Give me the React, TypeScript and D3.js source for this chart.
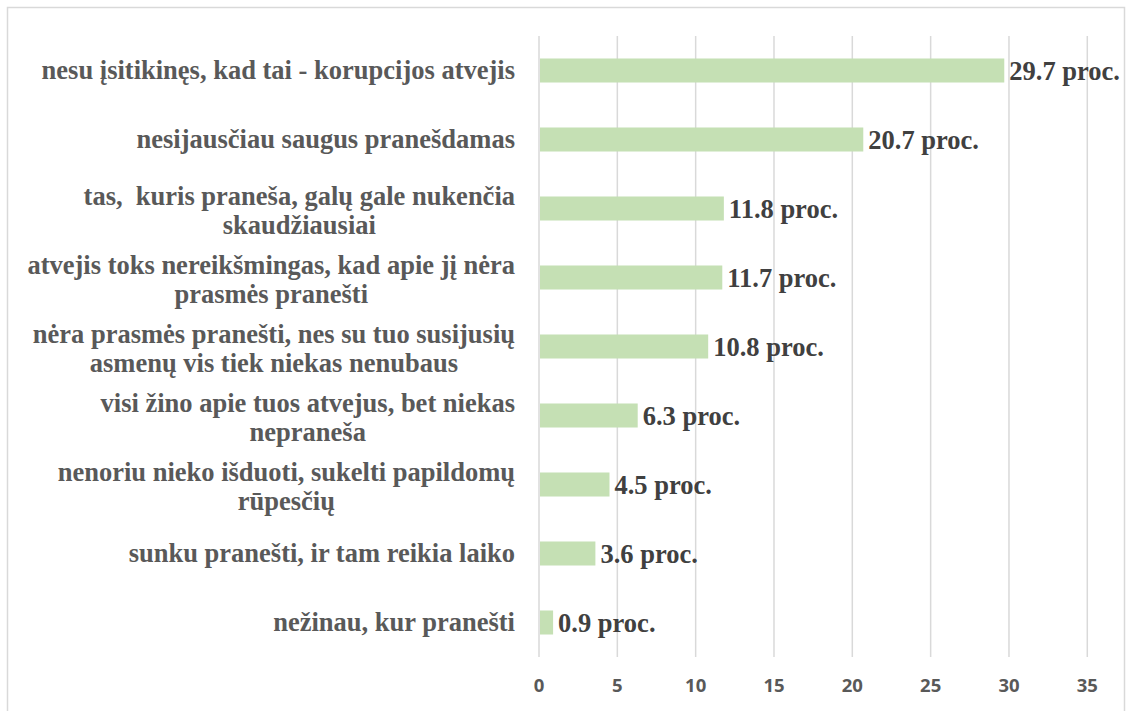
import React, { useEffect, useRef } from "react";
import * as d3 from "d3";

const categories: string[][] = [
  ["nesu įsitikinęs, kad tai - korupcijos atvejis"],
  ["nesijausčiau saugus pranešdamas"],
  ["tas,  kuris praneša, galų gale nukenčia", "skaudžiausiai"],
  ["atvejis toks nereikšmingas, kad apie jį nėra", "prasmės pranešti"],
  ["nėra prasmės pranešti, nes su tuo susijusių", "asmenų vis tiek niekas nenubaus"],
  ["visi žino apie tuos atvejus, bet niekas", "nepraneša"],
  ["nenoriu nieko išduoti, sukelti papildomų", "rūpesčių"],
  ["sunku pranešti, ir tam reikia laiko"],
  ["nežinau, kur pranešti"],
];
const values: number[] = [29.7, 20.7, 11.8, 11.7, 10.8, 6.3, 4.5, 3.6, 0.9];
const xTicks: number[] = [0, 5, 10, 15, 20, 25, 30, 35];
const suffix = " proc.";

export default function App() {
  const ref = useRef<SVGSVGElement>(null);
  useEffect(() => {
    const svg = d3.select(ref.current);
    svg.selectAll("*").remove();
    const W = 1127, H = 711;
    const x0 = 539, x1 = 1087.3, yTop = 36, yBot = 657;
    const x = d3.scaleLinear().domain([0, 35]).range([x0, x1]);
    const idx = values.map((_, i) => String(i));
    const y = d3.scaleBand().domain(idx).range([yTop, yBot]).paddingInner(0.652).paddingOuter(0.326);

    svg.append("rect").attr("x", 0).attr("y", 0).attr("width", W).attr("height", H).attr("fill", "#fff");
    svg.append("rect").attr("x", 7.5).attr("y", 7.5).attr("width", 1117).attr("height", 720)
      .attr("fill", "none").attr("stroke", "#d9d9d9").attr("stroke-width", 1.5);

    // gridlines
    svg.append("g").selectAll("line").data(xTicks).join("line")
      .attr("x1", d => x(d)).attr("x2", d => x(d)).attr("y1", yTop).attr("y2", yBot)
      .attr("stroke", "#d9d9d9").attr("stroke-width", 1.5);

    // tick labels
    svg.append("g").selectAll("text").data(xTicks).join("text")
      .attr("x", d => x(d)).attr("y", 692).attr("text-anchor", "middle")
      .attr("font-family", "'Open Sans', sans-serif").attr("font-weight", 700)
      .attr("font-size", 18.5).attr("fill", "#595959").text(d => String(d));

    // bars
    svg.append("g").selectAll("rect").data(values).join("rect")
      .attr("x", x(0) + 1).attr("y", (_, i) => y(String(i))!)
      .attr("width", d => x(d) - x(0) - 1).attr("height", y.bandwidth())
      .attr("fill", "#c5e0b4");

    // value labels
    svg.append("g").selectAll("text").data(values).join("text")
      .attr("x", d => x(d) + 5).attr("y", (_, i) => y(String(i))! + y.bandwidth() / 2 + 9)
      .attr("font-family", "'Liberation Serif', 'Times New Roman', serif").attr("font-weight", 700)
      .attr("font-size", 26.5).attr("fill", "#404040").text(d => d.toFixed(1) + suffix);

    // category labels
    const right = 515;
    const lh = 29.5;
    const g = svg.append("g");
    categories.forEach((lines, i) => {
      const cy = y(String(i))! + y.bandwidth() / 2;
      const base = lines.length > 1 ? cy + 11 : cy + 8;
      const texts = lines.map((ln, j) =>
        g.append("text")
          .attr("font-family", "'Liberation Serif', 'Times New Roman', serif").attr("font-weight", 700)
          .attr("font-size", 26.5).attr("fill", "#595959").attr("text-anchor", "middle")
          .style("white-space", "pre")
          .attr("y", base + (j - (lines.length - 1) / 2) * lh)
          .text(ln)
      );
      const widths = texts.map(t => (t.node() as SVGTextElement).getComputedTextLength());
      const bw = Math.max(...widths);
      texts.forEach(t => t.attr("x", right - bw / 2));
    });
  }, []);
  return (
    <svg ref={ref} width={1127} height={711}
      style={{ position: "fixed", left: 0, top: 0, display: "block" }} />
  );
}
